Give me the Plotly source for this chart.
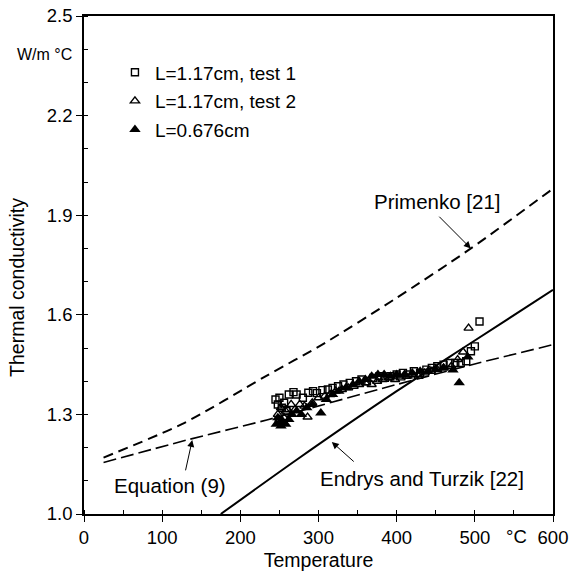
import plotly.graph_objects as go

# ---- data ----
t1_x = [245, 248, 250, 253, 256, 259, 262, 268, 272, 280, 287, 293, 298, 305, 312, 318, 325, 332, 340, 348,
        355, 362, 370, 378, 385, 392, 400, 408, 415, 422, 430, 438, 445, 452, 460, 468, 475, 482, 489, 495,
        500, 506]
t1_y = [1.345, 1.33, 1.35, 1.32, 1.335, 1.31, 1.36, 1.367, 1.36, 1.35, 1.365, 1.37, 1.364, 1.373, 1.375, 1.38,
        1.385, 1.39, 1.395, 1.40, 1.405, 1.40, 1.41, 1.415, 1.41, 1.415, 1.42, 1.425, 1.42, 1.43, 1.425, 1.435,
        1.44, 1.445, 1.45, 1.455, 1.455, 1.455, 1.46, 1.49, 1.505, 1.58]

t2_x = [248, 250, 252, 256, 258, 260, 265, 270, 276, 282, 286, 292, 300, 308, 315, 322, 330, 338, 345, 352,
        360, 368, 375, 382, 390, 398, 405, 412, 420, 428, 436, 444, 452, 460, 470, 478, 485, 492]
t2_y = [1.30, 1.285, 1.32, 1.29, 1.31, 1.315, 1.33, 1.315, 1.33, 1.325, 1.292, 1.335, 1.35, 1.355, 1.36, 1.37,
        1.375, 1.38, 1.385, 1.39, 1.395, 1.39, 1.40, 1.405, 1.41, 1.405, 1.41, 1.415, 1.42, 1.415, 1.425, 1.43,
        1.435, 1.44, 1.445, 1.465, 1.488, 1.56]

t3_x = [246, 248, 250, 252, 254, 258, 262, 266, 272, 278, 285, 292, 303, 310, 318, 326, 335, 344, 352, 360,
        368, 376, 384, 392, 400, 410, 420, 430, 440, 450, 460, 472, 480, 491]
t3_y = [1.27, 1.29, 1.275, 1.265, 1.28, 1.27, 1.285, 1.30, 1.31, 1.30, 1.32, 1.33, 1.304, 1.345, 1.36, 1.37,
        1.38, 1.39, 1.40, 1.405, 1.415, 1.42, 1.42, 1.415, 1.42, 1.42, 1.425, 1.43, 1.43, 1.435, 1.44, 1.434,
        1.395, 1.473]

prim_x = [25, 128, 231, 308, 396, 495, 600]
prim_y = [1.17, 1.274, 1.413, 1.515, 1.645, 1.80, 1.98]

eq9_x = [25, 132, 235, 400, 495, 600]
eq9_y = [1.155, 1.223, 1.284, 1.39, 1.449, 1.51]

endr_x = [175, 273, 400, 495, 600]
endr_y = [1.0, 1.165, 1.37, 1.515, 1.675]

names = ["L=1.17cm, test 1", "L=1.17cm, test 2", "L=0.676cm"]
x_ticks = [0, 100, 200, 300, 400, 500, 600]
x_ticktext = ["0", "100", "200", "300", "400", "500", "600"]
y_ticks = [1.0, 1.3, 1.6, 1.9, 2.2, 2.5]
y_ticktext = ["1.0", "1.3", "1.6", "1.9", "2.2", "2.5"]

FONT = "Liberation Sans"
fig = go.Figure()

fig.add_trace(go.Scatter(x=prim_x, y=prim_y, mode="lines",
                         line=dict(color="black", width=2, dash="10px,6px", shape="spline", smoothing=0.8),
                         showlegend=False, hoverinfo="skip"))
fig.add_trace(go.Scatter(x=eq9_x, y=eq9_y, mode="lines",
                         line=dict(color="black", width=1.6, dash="13px,5px", shape="spline", smoothing=0.8),
                         showlegend=False, hoverinfo="skip"))
fig.add_trace(go.Scatter(x=endr_x, y=endr_y, mode="lines",
                         line=dict(color="black", width=2, shape="spline", smoothing=0.8),
                         showlegend=False, hoverinfo="skip"))

fig.add_trace(go.Scatter(x=t1_x, y=t1_y, mode="markers", name=names[0], legendgroup="a",
                         marker=dict(symbol="square-open", size=7, color="black", line=dict(width=1.4))))
fig.add_trace(go.Scatter(x=t2_x, y=t2_y, mode="markers", name=names[1], legendgroup="b",
                         marker=dict(symbol="triangle-up-open", size=8, color="black", line=dict(width=1.4))))
fig.add_trace(go.Scatter(x=t3_x, y=t3_y, mode="markers", name=names[2], legendgroup="c",
                         marker=dict(symbol="triangle-up", size=10, color="black")))

ann = []
# arrows
for (tx, ty, hx, hy) in [(452.6, 1.90, 494.9, 1.80), (129.5, 1.127, 138.5, 1.223), (347, 1.154, 317, 1.217)]:
    ann.append(dict(x=hx, y=hy, ax=tx, ay=ty, xref="x", yref="y", axref="x", ayref="y", text="",
                    showarrow=True, arrowhead=2, arrowsize=1.4, arrowwidth=1, arrowcolor="black"))
ann.append(dict(x=451, y=1.94, xref="x", yref="y", text="Primenko [21]", showarrow=False,
                font=dict(size=20.5, family=FONT, color="black")))
ann.append(dict(x=110, y=1.087, xref="x", yref="y", text="Equation (9)", showarrow=False,
                font=dict(size=20.5, family=FONT, color="black")))
ann.append(dict(x=433, y=1.108, xref="x", yref="y", text="Endrys and Turzik [22]", showarrow=False,
                font=dict(size=20.5, family=FONT, color="black")))
ann.append(dict(x=0, y=2.385, xref="paper", yref="y", xanchor="right", xshift=-10, text="W/m °C",
                showarrow=False, font=dict(size=16, family=FONT, color="black")))
ann.append(dict(x=553, y=0, xref="x", yref="paper", yanchor="middle", yshift=-22, text="°C", showarrow=False,
                font=dict(size=18.5, family=FONT, color="black")))
ann.append(dict(x=0, y=0.454, xref="paper", yref="paper", xanchor="center", yanchor="middle", xshift=-67,
                text="Thermal conductivity", textangle=-90,
                showarrow=False, font=dict(size=19.5, family=FONT, color="black")))

fig.update_layout(
    width=570, height=574,
    margin=dict(l=84, r=17, t=16, b=60),
    plot_bgcolor="white", paper_bgcolor="white",
    font=dict(family=FONT, size=18.5, color="black"),
    annotations=ann,
    legend=dict(x=0.066, y=0.925, xanchor="left", yanchor="top", bgcolor="rgba(0,0,0,0)",
                font=dict(size=19, family=FONT), itemwidth=30, tracegroupgap=1),
    xaxis=dict(range=[0, 600], tickvals=x_ticks, ticktext=x_ticktext, showgrid=False, zeroline=False,
               automargin=False, showline=True, linecolor="black", linewidth=1.5, mirror=True,
               ticks="outside", ticklen=6, tickcolor="black", tickfont=dict(size=18.5),
               minor=dict(dtick=50, ticks="inside", ticklen=4, tickcolor="black"),
               title=dict(text="Temperature", font=dict(size=19.5), standoff=6)),
    yaxis=dict(range=[1.0, 2.5], tickvals=y_ticks, ticktext=y_ticktext, showgrid=False, zeroline=False,
               automargin=False, showline=True, linecolor="black", linewidth=1.5, mirror=True,
               ticks="outside", ticklen=6, tickcolor="black", tickfont=dict(size=18.5),
               minor=dict(dtick=0.1, ticks="inside", ticklen=4, tickcolor="black")),
)

fig.write_html("out.html", config={"displayModeBar": False},
               post_script="document.body.style.margin='0';document.body.style.overflow='hidden';")
